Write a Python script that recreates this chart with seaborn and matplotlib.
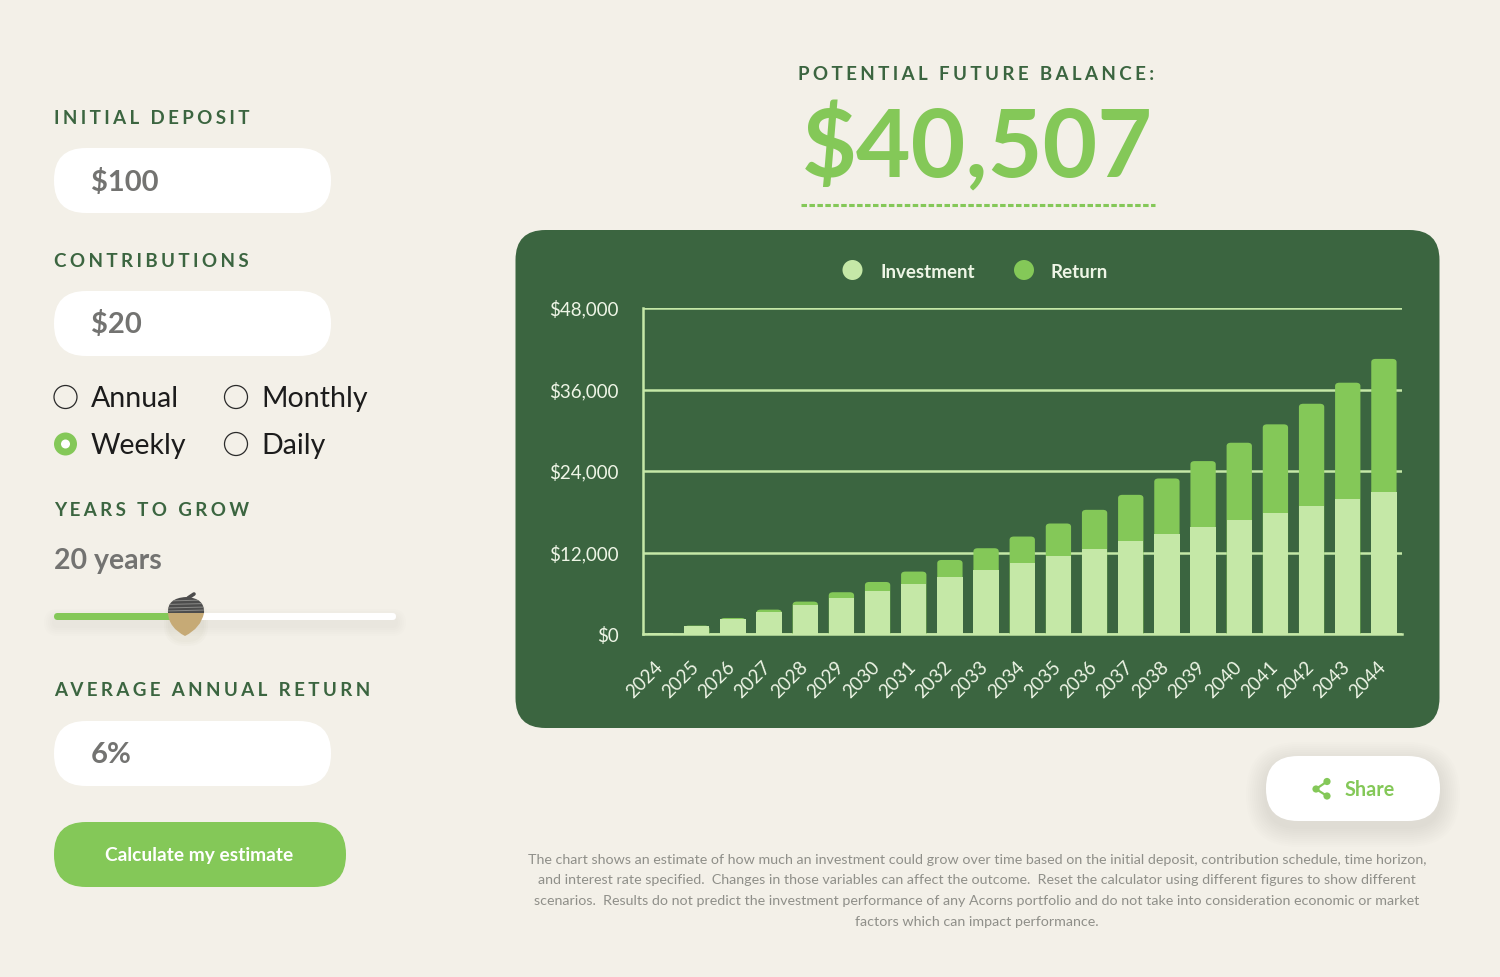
import numpy as np
import pandas as pd
import seaborn as sns
import matplotlib.pyplot as plt
from matplotlib.patches import FancyBboxPatch, Circle, PathPatch
from matplotlib.path import Path
from matplotlib.transforms import ScaledTranslation

years = [str(y) for y in range(2024, 2045)]
investment = [100, 1140, 2180, 3220, 4260, 5300, 6340, 7380, 8420, 9460, 10500,
              11540, 12580, 13620, 14660, 15700, 16740, 17780, 18820, 19860, 20900]
total = [100, 1230, 2360, 3590, 4770, 6150, 7660, 9190, 10900, 12630, 14350,
         16270, 18280, 20490, 22900, 25460, 28160, 30870, 33900, 37000, 40507]
y_ticks = [0, 12000, 24000, 36000, 48000]
y_labels = ['$0', '$12,000', '$24,000', '$36,000', '$48,000']
footnote = [
    'The chart shows an estimate of how much an investment could grow over time based on the initial deposit, contribution schedule, time horizon,',
    'and interest rate specified.  Changes in those variables can affect the outcome.  Reset the calculator using different figures to show different',
    'scenarios.  Results do not predict the investment performance of any Acorns portfolio and do not take into consideration economic or market',
    'factors which can impact performance.',
]

BG = '#f3f0e8'
DARK = '#3b6540'
GREEN = '#84c858'
LIGHT = '#c5e8a7'
GREY = '#737371'
NOTE = '#8f8f89'

sns.set_theme(style='white')
plt.rcParams['font.family'] = ['Lato', 'DejaVu Sans']

W, H = 1500, 977
fig = plt.figure(figsize=(W / 100, H / 100), dpi=100, facecolor=BG)

# page layer in pixel coordinates
page = fig.add_axes([0, 0, 1, 1])
page.set_xlim(0, W)
page.set_ylim(H, 0)
page.axis('off')


def pill(x, y, w, h, r, color, z=1, alpha=1):
    p = FancyBboxPatch((x + r, y + r), w - 2 * r, h - 2 * r, boxstyle='round,pad=%f,rounding_size=%f' % (r, r),
                       fc=color, ec='none', alpha=alpha, zorder=z)
    page.add_patch(p)


def shadow(x, y, w, h, r, spread=14, a=0.012):
    for s in range(spread, 0, -2):
        pill(x - s, y - s + 6, w + 2 * s, h + 2 * s, r + s, '#5a5a40', z=0.5, alpha=a)


def spaced(x, y, s, size, color, gap='\u200a\u200a\u200a', ha='left', weight='bold'):
    page.text(x, y, gap.join(s), fontsize=size, color=color, ha=ha, va='center', fontweight=weight)


for lab, yy in [('INITIAL DEPOSIT', 118), ('CONTRIBUTIONS', 261.5), ('YEARS TO GROW', 511), ('AVERAGE ANNUAL RETURN', 691)]:
    spaced(54, yy, lab, 13.5, DARK)

for val, yy in [('$100', 148), ('$20', 291), ('6%', 721)]:
    pill(54, yy, 277, 65, 32, 'white')
    page.text(91, yy + 34, val, fontsize=21, color=GREY, va='center', fontweight='bold')

# radio group
for name, cx, cy, on in [('Annual', 65.5, 397, False), ('Monthly', 236, 397, False),
                         ('Weekly', 65.5, 444, True), ('Daily', 236, 444, False)]:
    if on:
        page.add_patch(Circle((cx, cy), 11.5, fc=GREEN, ec='none'))
        page.add_patch(Circle((cx, cy), 4.5, fc='white', ec='none'))
    else:
        page.add_patch(Circle((cx, cy), 11.5, fc='none', ec='#2a2a2a', lw=0.9))
    page.text(cx + 25.5, cy + 2, name, fontsize=20.5, color='#1c1c1c', va='center')

page.text(54, 561, '20 years', fontsize=20.5, color=GREY, va='center', fontweight='bold')

# slider with acorn thumb
shadow(54, 613, 342, 7, 3.5, spread=10, a=0.008)
pill(54, 613, 342, 7, 3.5, 'white', z=2)
pill(54, 613, 130, 7, 3.5, GREEN, z=2.1)
shadow(170, 598, 32, 36, 15, spread=6, a=0.02)
nut = Path([(168, 613), (169, 628), (185, 636), (201, 628), (204, 613), (168, 613)],
           [Path.MOVETO, Path.CURVE3, Path.CURVE3, Path.CURVE3, Path.CURVE3, Path.CLOSEPOLY])
page.add_patch(PathPatch(nut, fc='#c6aa76', ec='none', zorder=3))
cap = Path([(168, 613), (167, 598), (186, 597), (205, 598), (204, 613), (168, 613)],
           [Path.MOVETO, Path.CURVE3, Path.CURVE3, Path.CURVE3, Path.CURVE3, Path.CLOSEPOLY])
cap_patch = PathPatch(cap, fc='#4c4c4c', ec='none', zorder=3.1)
page.add_patch(cap_patch)
for yy in [601, 604.5, 608, 611]:
    ln, = page.plot([165, 207], [yy, yy - 1], color='#8a8a88', lw=0.7, zorder=3.2)
    ln.set_clip_path(cap_patch)
page.plot([188, 194], [598, 594], color='#4c4c4c', lw=2.6, zorder=3.1)

pill(54, 822, 292, 65, 32, GREEN)
page.text(199.5, 855, 'Calculate my estimate', fontsize=13.8, color='white', ha='center', va='center', fontweight='bold')

# headline
spaced(976.5, 74, 'POTENTIAL FUTURE BALANCE:', 13.5, DARK, ha='center')
page.text(977, 148, '$40,507', fontsize=68, color=GREEN, ha='center', va='center', fontweight='bold')
page.plot([801, 1155], [205, 205], color=GREEN, lw=2.2, ls=(0, (1.8, 0.8)))

# chart card
pill(515.5, 230, 924, 498, 30, DARK)
page.add_patch(Circle((852.5, 270), 10, fc=LIGHT, ec='none', zorder=2))
page.text(880, 272, 'Investment', fontsize=13.5, color='#eef5e6', va='center', fontweight='bold')
page.add_patch(Circle((1024, 270), 10, fc=GREEN, ec='none', zorder=2))
page.text(1051, 272, 'Return', fontsize=13.5, color='#eef5e6', va='center', fontweight='bold')

# share button
shadow(1266, 756, 174, 65, 32, spread=20, a=0.006)
pill(1266, 756, 174, 65, 32, 'white', z=2)
page.text(1344.5, 790, 'Share', fontsize=14.2, color=GREEN, va='center', fontweight='bold', zorder=3)
for a, b in [((1316, 789), (1327, 781.5)), ((1316, 789), (1327, 796))]:
    page.plot(*zip(a, b), color=GREEN, lw=1.6, zorder=3)
for c in [(1316, 789), (1327, 781.5), (1327, 796)]:
    page.add_patch(Circle(c, 3.6, fc=GREEN, ec='none', zorder=3))

for i, line in enumerate(footnote):
    page.text(977, 859.5 + i * 20.8, line, fontsize=10.3, color=NOTE, ha='center', va='center')

# the chart itself
ax = fig.add_axes([642.5 / W, 1 - 634 / H, (1402 - 642.5) / W, (634 - 308) / H])
ax.patch.set_alpha(0)
df = pd.DataFrame({'year': years, 'total': total, 'investment': investment})
sns.barplot(data=df, x='year', y='total', color=GREEN, saturation=1, width=0.7, linewidth=0, ax=ax, zorder=3)
n_top = len(ax.patches)
sns.barplot(data=df, x='year', y='investment', color=LIGHT, saturation=1, width=0.7, linewidth=0, ax=ax, zorder=3.1)
ax.set_xlim(-0.5, 20.5)
ax.set_ylim(0, 48000)
ax.set_xlabel('')
ax.set_ylabel('')
ax.set_yticks(y_ticks, y_labels)
ax.tick_params(axis='y', length=0, pad=17, labelsize=13.5, labelcolor='#eef5e6')
ax.tick_params(axis='x', length=0, pad=33, labelsize=13.5, labelcolor='#eef5e6')
shift = ScaledTranslation(-16 / 100, 0, fig.dpi_scale_trans)
for lab in ax.get_xticklabels():
    lab.set(rotation=45, ha='center', va='center', rotation_mode='anchor')
    lab.set_transform(lab.get_transform() + shift)
ax.yaxis.grid(True, color=LIGHT, lw=1.8, zorder=1)
ax.set_axisbelow(True)
for side in ['top', 'right']:
    ax.spines[side].set_visible(False)
for side in ['left', 'bottom']:
    ax.spines[side].set_color(LIGHT)
    ax.spines[side].set_linewidth(1.8)
    ax.spines[side].set_zorder(2)

# rounded tops for the return segments
rects = list(ax.patches)
for rect in rects[:n_top]:
    x0, w, h = rect.get_x(), rect.get_width(), rect.get_height()
    rx, ry = 0.12, 480
    if h < ry:
        continue
    verts = [(x0, 0), (x0, h - ry), (x0, h), (x0 + rx, h), (x0 + w - rx, h), (x0 + w, h), (x0 + w, h - ry), (x0 + w, 0), (x0, 0)]
    codes = [Path.MOVETO, Path.LINETO, Path.CURVE3, Path.CURVE3, Path.LINETO, Path.CURVE3, Path.CURVE3, Path.LINETO, Path.CLOSEPOLY]
    ax.add_patch(PathPatch(Path(verts, codes), fc=GREEN, ec='none', zorder=3))
    rect.remove()

fig.savefig('out.png', dpi=100, facecolor=BG)
